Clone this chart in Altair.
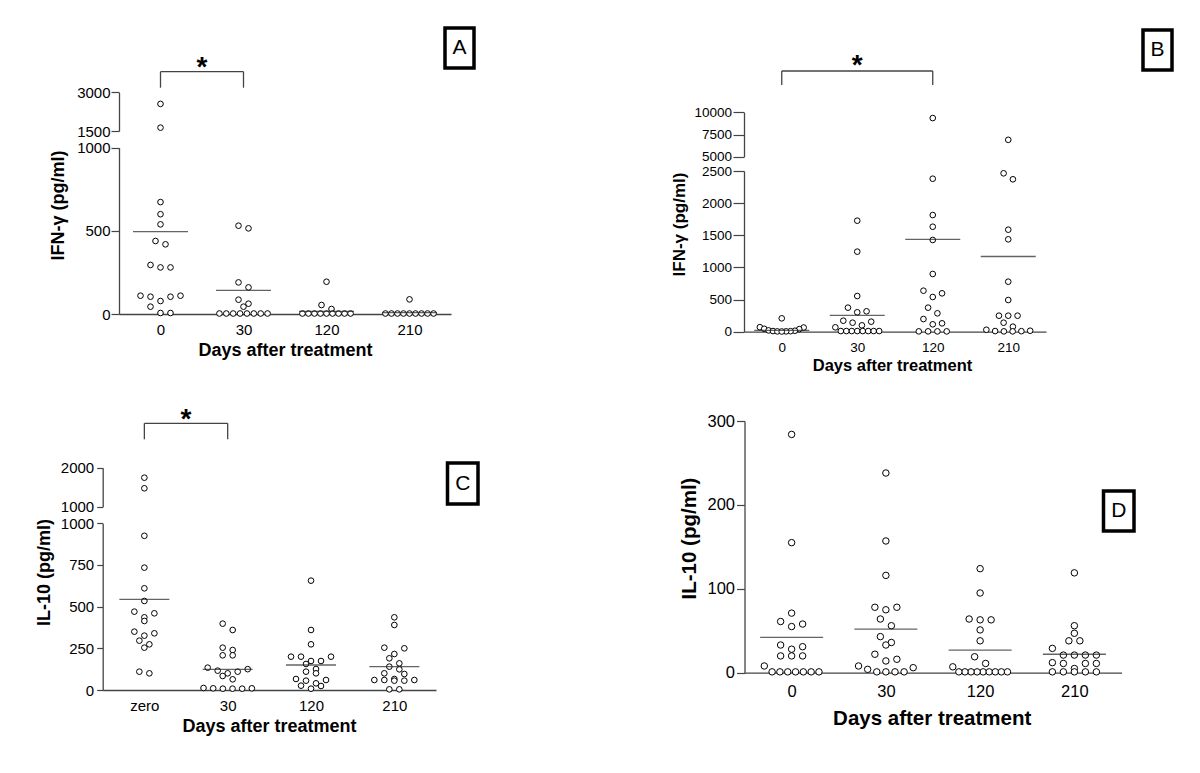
import altair as alt
import pandas as pd

# ---------------- categories / tick labels ----------------
days = ["0", "30", "120", "210"]
days_zero = ["zero", "30", "120", "210"]
x_title = "Days after treatment"

# ---------------- Panel A : IFN-gamma ----------------
a_d0 = [2550, 1630, 673, 600, 539, 439, 419, 295, 280, 280, 110, 110, 104, 104, 78, 44, 6, 6]
a_d30 = [531, 515, 190, 160, 86, 62, 44, 3, 3, 3, 3, 3, 3, 3, 3]
a_d120 = [194, 54, 30, 3, 3, 3, 3, 3, 3, 3, 3, 3]
a_d210 = [88, 3, 3, 3, 3, 3, 3, 3, 3, 3]
a_mean = [495, 142, 16, 8]
a_ticks_low = [0, 500, 1000]
a_ticks_high = [1500, 3000]

# ---------------- Panel B : IFN-gamma ----------------
b_d0 = [208, 70, 65, 45, 40, 20, 15, 10, 8, 5, 5, 3]
b_d30 = [1727, 1245, 555, 374, 317, 302, 171, 156, 140, 99, 68, 10, 10, 10, 10, 10, 10, 10, 10]
b_d120 = [9350, 2380, 1815, 1633, 1427, 898, 638, 597, 540, 374, 286, 197, 130, 115, 5, 5, 5, 5]
b_d210 = [6900, 2464, 2371, 1587, 1437, 778, 493, 249, 249, 249, 140, 78, 30, 15, 10, 8, 5, 5]
b_mean = [20, 255, 1437, 1170]
b_ticks_low = [0, 500, 1000, 1500, 2000, 2500]
b_ticks_high = [5000, 7500, 10000]

# ---------------- Panel C : IL-10 ----------------
c_d0 = [1744, 1472, 925, 734, 610, 534, 470, 460, 436, 414, 350, 340, 326, 296, 274, 254, 110, 100]
c_d30 = [398, 360, 254, 240, 208, 208, 134, 125, 116, 110, 100, 84, 64, 12, 10, 10, 8, 8, 8]
c_d120 = [656, 360, 274, 200, 200, 200, 174, 174, 156, 126, 110, 100, 66, 60, 56, 40, 26, 24, 8]
c_d210 = [436, 390, 254, 250, 216, 190, 160, 140, 124, 100, 96, 66, 60, 60, 60, 56, 56, 4, 4]
c_mean = [544, 124, 150, 140]
c_ticks_low = [0, 250, 500, 750, 1000]
c_ticks_high = [1000, 2000]

# ---------------- Panel D : IL-10 ----------------
d_d0 = [284, 155, 71, 61, 58, 55, 33, 31, 28, 20, 20, 20, 8, 1, 1, 1, 1, 1, 1, 1]
d_d30 = [238, 157, 116, 78, 78, 75, 64, 56, 43, 36, 33, 22, 16, 14, 8, 6, 4, 1, 1, 1, 1]
d_d120 = [124, 95, 64, 63, 63, 51, 38, 19, 11, 7, 1, 1, 1, 1, 1, 1, 1, 1, 1]
d_d210 = [119, 56, 47, 38, 38, 29, 21, 21, 21, 21, 12, 11, 11, 11, 5, 1, 1, 1, 1, 1]
d_mean = [42, 52, 27, 22]
d_ticks = [0, 100, 200, 300]

# ---------------- layout (page pixels) ----------------
W, H, M = 1184, 757, 8
FONT = "Liberation Sans"
AXIS_COLOR = "#444444"

PANELS = [
    dict(key="A", cats=days, groups=[a_d0, a_d30, a_d120, a_d210], means=a_mean,
         xr=(119, 451),
         segs=[dict(lo=0, hi=1000, yb=314, yt=147.7, ticks=a_ticks_low),
               dict(lo=1500, hi=3000, yb=131, yt=92.3, ticks=a_ticks_high)],
         ytitle="IFN-γ (pg/ml)", ytitle_pos=(58, 205), xtitle_pos=(285, 350),
         lab_fs=15, ytitle_fs=18, xtitle_fs=18, tick=8, lab_pad=1, xlab_pad=8.6,
         dot=32, step=10, row_h=6.5, mean_w=55,
         sig=(0, 1), sig_y=(71.7, 87.7), star_y=60, box=(445, 28, 474, 68)),
    dict(key="B", cats=days, groups=[b_d0, b_d30, b_d120, b_d210], means=b_mean,
         xr=(744, 1046),
         segs=[dict(lo=0, hi=2500, yb=331.7, yt=171, ticks=b_ticks_low),
               dict(lo=5000, hi=10000, yb=156.7, yt=112.3, ticks=b_ticks_high)],
         ytitle="IFN-γ (pg/ml)", ytitle_pos=(679, 224), xtitle_pos=(892, 365),
         lab_fs=13.5, ytitle_fs=17, xtitle_fs=16.5, tick=11, lab_pad=1.5, xlab_pad=8.7,
         dot=32, step=9.3, row_h=6.5, mean_w=55,
         sig=(0, 2), sig_y=(71, 85), star_y=58, box=(1143, 30, 1172, 70)),
    dict(key="C", cats=days_zero, groups=[c_d0, c_d30, c_d120, c_d210], means=c_mean,
         xr=(102.7, 436),
         segs=[dict(lo=0, hi=1000, yb=690, yt=523.3, ticks=c_ticks_low),
               dict(lo=1000, hi=2000, yb=506.7, yt=467.7, ticks=c_ticks_high)],
         ytitle="IL-10 (pg/ml)", ytitle_pos=(45, 572), xtitle_pos=(269, 726),
         lab_fs=15, ytitle_fs=18, xtitle_fs=18, tick=6, lab_pad=3, xlab_pad=8.6,
         dot=32, step=10, row_h=6.5, mean_w=50,
         sig=(0, 1), sig_y=(423.3, 439.3), star_y=411.7, box=(447.5, 463, 478, 504)),
    dict(key="D", cats=days, groups=[d_d0, d_d30, d_d120, d_d210], means=d_mean,
         xr=(744.5, 1121.5),
         segs=[dict(lo=0, hi=300, yb=672.7, yt=421, ticks=d_ticks)],
         ytitle="IL-10 (pg/ml)", ytitle_pos=(689, 538), xtitle_pos=(931.7, 718),
         lab_fs=16.5, ytitle_fs=20.5, xtitle_fs=20.5, tick=8, lab_pad=2, xlab_pad=11.2,
         dot=42, step=11, row_h=7, mean_w=63,
         sig=None, box=(1103.5, 491, 1134, 531)),
]


def seg_index(P, v):
    segs = P["segs"]
    if len(segs) == 1 or v <= segs[0]["hi"]:
        return 0
    return 1


def to_px(P, v):
    s = P["segs"][seg_index(P, v)]
    return s["yb"] + (v - s["lo"]) / (s["hi"] - s["lo"]) * (s["yt"] - s["yb"])


def swarm(vals, ypix, row_h, step, maxw):
    """Prism-like row layout: points close in y share a row, spread horizontally,
    lowest values in the middle of a row, higher ones outward."""
    order = sorted(range(len(vals)), key=lambda i: ypix[i])
    rows = []
    for i in order:
        if rows and ypix[i] - ypix[rows[-1][0]] < row_h:
            rows[-1].append(i)
        else:
            rows.append([i])
    offs = [0.0] * len(vals)
    for r in rows:
        n = len(r)
        s = step if n == 1 else min(step, maxw / (n - 1))
        slots = [(j - (n - 1) / 2) for j in range(n)]
        # centre-out slot order, right side first at equal distance
        slots.sort(key=lambda t: (abs(t), -t))
        members = sorted(r, key=lambda i: -ypix[i])  # ascending value
        for slot, i in zip(slots, members):
            offs[i] = slot * s
    return offs


layers = []
for P in PANELS:
    x0, x1 = P["xr"]
    band = (x1 - x0) / 4
    xscale = alt.Scale(domain=[-0.5, 3.5], range=[x0 - M, x1 - M], nice=False, zero=False)

    # points table
    rows = []
    for gi, vals in enumerate(P["groups"]):
        ypix = [to_px(P, v) for v in vals]
        offs = swarm(vals, ypix, P["row_h"], P["step"], 0.58 * band)
        for v, o in zip(vals, offs):
            rows.append({"xpos": gi + o / band, "v": v, "seg": seg_index(P, v),
                         "day": P["cats"][gi]})
    pts = pd.DataFrame(rows)

    label_expr = "[" + ",".join("'%s'" % c for c in P["cats"]) + "][datum.value]"
    yscales = []
    for si, seg in enumerate(P["segs"]):
        yscale = alt.Scale(domain=[seg["lo"], seg["hi"]], range=[seg["yb"] - M, seg["yt"] - M],
                           nice=False, zero=False)
        yscales.append(yscale)
        common_y = dict(orient="left", offset=-(x0 - M), values=seg["ticks"], format="d",
                        labelFontSize=P["lab_fs"], tickSize=P["tick"], labelPadding=P["lab_pad"],
                        grid=False, labelOverlap=False, tickWidth=1.2, domainWidth=1.3)
        if si == 0:
            yaxis = alt.Axis(title=P["ytitle"], titleX=P["ytitle_pos"][0] - x0,
                             titleY=P["ytitle_pos"][1] - M, titleAngle=270, titleAlign="center",
                             titleBaseline="middle", titleFontSize=P["ytitle_fs"],
                             titleFontWeight="bold", **common_y)
            xaxis = alt.Axis(orient="bottom", offset=(seg["yb"] - M) - H, values=[0, 1, 2, 3],
                             labelExpr=label_expr, ticks=False, tickSize=0,
                             labelPadding=P["xlab_pad"], labelFontSize=P["lab_fs"],
                             labelFlush=False, labelOverlap=False, grid=False,
                             title=x_title, titleX=P["xtitle_pos"][0] - M,
                             titleY=P["xtitle_pos"][1] - seg["yb"], titleAlign="center",
                             titleBaseline="middle", titleFontSize=P["xtitle_fs"],
                             titleFontWeight="bold", domainWidth=1.3)
        else:
            yaxis = alt.Axis(title="", **common_y)
            xaxis = None
        sub = pts[pts["seg"] == si]
        layers.append(
            alt.Chart(sub).mark_point(shape="circle", filled=True, fill="white", stroke="black",
                                      strokeWidth=1, size=P["dot"], opacity=1).encode(
                x=alt.X("xpos:Q", scale=xscale, axis=xaxis),
                y=alt.Y("v:Q", scale=yscale, axis=yaxis),
            )
        )

    # mean lines
    mdf = pd.DataFrame({"xpos": list(range(4)), "v": P["means"]})
    layers.append(
        alt.Chart(mdf).mark_tick(orient="horizontal", size=P["mean_w"], thickness=1.3,
                                 color="#222222").encode(
            x=alt.X("xpos:Q", scale=xscale, axis=None),
            y=alt.Y("v:Q", scale=yscales[0], axis=None),
        )
    )

    # significance bracket
    if P["sig"] is not None:
        a, b = P["sig"]
        yb_, yd_ = P["sig_y"]
        layers.append(
            alt.Chart(pd.DataFrame({"a": [a], "b": [b]})).mark_rule(
                color=AXIS_COLOR, strokeWidth=1.3).encode(
                x=alt.X("a:Q", scale=xscale, axis=None), x2="b:Q", y=alt.value(yb_ - M))
        )
        layers.append(
            alt.Chart(pd.DataFrame({"e": [a, b]})).mark_rule(
                color=AXIS_COLOR, strokeWidth=1.3).encode(
                x=alt.X("e:Q", scale=xscale, axis=None),
                y=alt.value(yb_ - M), y2=alt.value(yd_ - M))
        )
        fs = 28
        layers.append(
            alt.Chart(pd.DataFrame({"m": [(a + b) / 2], "t": ["*"]})).mark_text(
                font=FONT, fontSize=fs, fontWeight="bold", align="center",
                baseline="alphabetic", color="black").encode(
                x=alt.X("m:Q", scale=xscale, axis=None),
                y=alt.value(P["star_y"] - M + 0.57 * fs), text="t:N")
        )

    # panel letter box
    bx0, by0, bx1, by1 = P["box"]
    bdf = pd.DataFrame({"label": [P["key"]]})
    layers.append(
        alt.Chart(bdf).mark_rect(fill="white", stroke="black", strokeWidth=3.5).encode(
            x=alt.value(bx0 - M), x2=alt.value(bx1 - M), y=alt.value(by0 - M),
            y2=alt.value(by1 - M))
    )
    layers.append(
        alt.Chart(bdf).mark_text(font=FONT, fontSize=21, align="center", baseline="middle",
                                 color="black").encode(
            x=alt.value((bx0 + bx1) / 2 - M), y=alt.value((by0 + by1) / 2 - M),
            text="label:N")
    )

chart = (
    alt.layer(*layers)
    .resolve_scale(x="independent", y="independent")
    .resolve_axis(x="independent", y="independent")
    .properties(width=W, height=H, autosize=alt.AutoSizeParams(type="none"), padding=0,
                background="white")
    .configure_view(strokeWidth=0)
    .configure_axis(labelFont=FONT, titleFont=FONT, labelColor="black", titleColor="black",
                    domainColor=AXIS_COLOR, tickColor=AXIS_COLOR)
)

chart.save("out.html", embed_options={"renderer": "svg", "actions": False})
